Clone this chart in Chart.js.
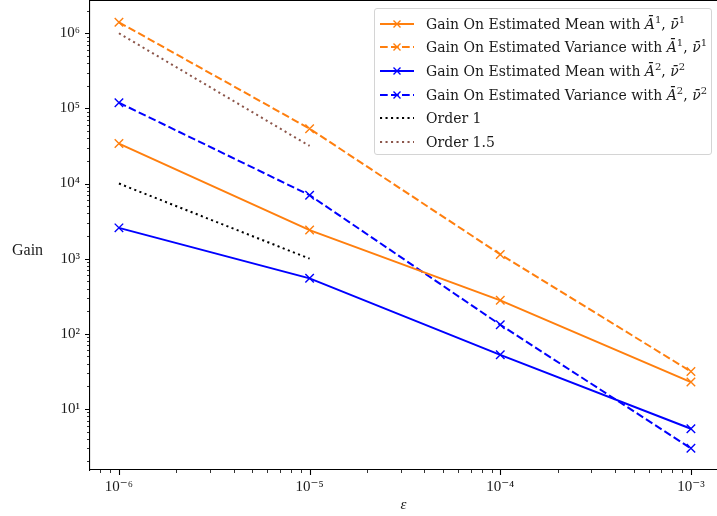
<!DOCTYPE html>
<html lang="en">
<head>
<meta charset="UTF-8">
<title>Gain vs epsilon</title>
<script src="https://cdn.jsdelivr.net/npm/chart.js@4/dist/chart.umd.min.js"></script>
<style>
    body {
        margin: 0;
        background: #fff;
        font-family: 'Liberation Serif', 'DejaVu Serif', serif;
        color: #1a1a1a;
    }
    .wrap {
        position: relative;
        width: 717px;
        height: 516px;
        overflow: hidden;
    }
    canvas {
        position: absolute;
        left: 0;
        top: 0;
    }
    .ylabel {
        position: absolute;
        left: 12px;
        top: 241px;
        font-size: 16px;
    }
    .legend {
        position: absolute;
        left: 374px;
        top: 8px;
        width: 338px;
        height: 147px;
        box-sizing: border-box;
        border: 1px solid #d4d4d4;
        border-radius: 3px;
        background: rgba(255, 255, 255, 0.8);
        padding-top: 3px;
    }
    .legend .row {
        height: 23.6px;
        display: flex;
        align-items: center;
        font-family: 'DejaVu Serif', serif;
        font-size: 14px;
        white-space: nowrap;
    }
    .legend svg {
        margin-left: 5px;
        margin-right: 12px;
        flex: none;
    }
    .legend i { font-style: italic; }
    .legend sup { font-size: 10px; line-height: 0; }
</style>
</head>
<body>
<div class="wrap">
    <canvas id="gainChart" width="717" height="516"></canvas>
    <div class="ylabel">Gain</div>
    <div class="legend" id="legend"></div>
</div>

<script>
    // data (log-log)
    const epsilon = [1e-6, 1e-5, 1e-4, 1e-3];
    const meanA1 = [34000, 2400, 279, 22.8];
    const varA1 = [1.40e6, 53700, 1140, 31.5];
    const meanA2 = [2570, 547, 52.5, 5.46];
    const varA2 = [119000, 7000, 132, 2.99];

    // reference slopes
    const orderEps = [1e-6, 1e-5];
    const order1 = [1e4, 1e3];
    const order15 = [1e6, 3.16e4];

    const legendLabels = [
        'Gain On Estimated Mean with <i>A&#772;</i><sup>1</sup>, <i>&nu;&#772;</i><sup>1</sup>',
        'Gain On Estimated Variance with <i>A&#772;</i><sup>1</sup>, <i>&nu;&#772;</i><sup>1</sup>',
        'Gain On Estimated Mean with <i>A&#772;</i><sup>2</sup>, <i>&nu;&#772;</i><sup>2</sup>',
        'Gain On Estimated Variance with <i>A&#772;</i><sup>2</sup>, <i>&nu;&#772;</i><sup>2</sup>',
        'Order 1',
        'Order 1.5'
    ];

    // axis ticks
    const xMajor = [1e-6, 1e-5, 1e-4, 1e-3];
    const xTickLabels = ['10\u207B\u2076', '10\u207B\u2075', '10\u207B\u2074', '10\u207B\u00B3'];
    const yMajor = [1e1, 1e2, 1e3, 1e4, 1e5, 1e6];
    const yTickLabels = ['10\u00B9', '10\u00B2', '10\u00B3', '10\u2074', '10\u2075', '10\u2076'];
    const minorSteps = [2, 3, 4, 5, 6, 7, 8, 9];

    const xRange = [7.05e-7, 1.37e-3];
    const yRange = [1.54, 2.77e6];

    const ORANGE = '#ff7f0e';
    const BLUE = '#0000ff';
    const BROWN = '#8c564b';
    const DASH = [7.7, 3.3];
    const DOT = [2.1, 3.4];
    const FONT = "'Liberation Serif', 'DejaVu Serif', serif";

    const pts = (xs, ys) => xs.map((x, i) => ({ x: x, y: ys[i] }));

    // decades plus 2..9 subdivisions that fall inside the axis range
    const logTicks = (majors, lo, hi) => {
        const out = [];
        const first = Math.floor(Math.log10(lo)), last = Math.ceil(Math.log10(hi));
        for (let e = first; e <= last; e++) {
            const d = Math.pow(10, e);
            [1].concat(minorSteps).forEach(s => {
                const v = s === 1 ? (majors.find(m => Math.abs(m - d) / d < 1e-9) || d) : s * d;
                if (v >= lo && v <= hi) out.push({ value: v, major: s === 1 });
            });
        }
        return out;
    };

    const datasets = [
        { label: 'mean A1', data: pts(epsilon, meanA1), borderColor: ORANGE, borderDash: [], pointStyle: 'crossRot', pointRadius: 6 },
        { label: 'var A1', data: pts(epsilon, varA1), borderColor: ORANGE, borderDash: DASH, pointStyle: 'crossRot', pointRadius: 6 },
        { label: 'mean A2', data: pts(epsilon, meanA2), borderColor: BLUE, borderDash: [], pointStyle: 'crossRot', pointRadius: 6 },
        { label: 'var A2', data: pts(epsilon, varA2), borderColor: BLUE, borderDash: DASH, pointStyle: 'crossRot', pointRadius: 6 },
        { label: 'Order 1', data: pts(orderEps, order1), borderColor: '#000', borderDash: DOT, pointRadius: 0 },
        { label: 'Order 1.5', data: pts(orderEps, order15), borderColor: BROWN, borderDash: DOT, pointRadius: 0 }
    ].map(d => Object.assign({
        borderWidth: 2,
        pointBorderColor: d.borderColor,
        pointBorderWidth: 1.4,
        pointBackgroundColor: d.borderColor,
        tension: 0,
        fill: false
    }, d));

    // top spine and matplotlib-like outward ticks (major long, minor short)
    const frame = {
        id: 'frame',
        afterDraw(chart) {
            const { ctx, chartArea: a, scales } = chart;
            ctx.save();
            ctx.strokeStyle = '#000';
            ctx.lineWidth = 1.1;
            ctx.beginPath();
            ctx.moveTo(a.left, a.top + 0.5);
            ctx.lineTo(a.right, a.top + 0.5);
            ctx.stroke();
            [true, false].forEach(major => {
                ctx.lineWidth = major ? 1.1 : 0.8;
                const len = major ? 5 : 3;
                ctx.beginPath();
                scales.x.ticks.filter(t => t.major === major).forEach(t => {
                    const p = Math.round(scales.x.getPixelForValue(t.value)) + 0.5;
                    ctx.moveTo(p, a.bottom);
                    ctx.lineTo(p, a.bottom + len);
                });
                scales.y.ticks.filter(t => t.major === major).forEach(t => {
                    const p = Math.round(scales.y.getPixelForValue(t.value)) + 0.5;
                    ctx.moveTo(a.left, p);
                    ctx.lineTo(a.left - len, p);
                });
                ctx.stroke();
            });
            ctx.restore();
        }
    };

    const gainChart = new Chart(document.getElementById('gainChart'), {
        type: 'line',
        data: { datasets: datasets },
        plugins: [frame],
        options: {
            responsive: false,
            animation: false,
            layout: { autoPadding: false, padding: { top: 0, right: 0, bottom: 0, left: 0 } },
            plugins: {
                legend: { display: false },
                tooltip: { enabled: false }
            },
            scales: {
                x: {
                    type: 'logarithmic',
                    min: xRange[0],
                    max: xRange[1],
                    afterBuildTicks: s => { s.ticks = logTicks(xMajor, xRange[0], xRange[1]); },
                    afterFit: s => { s.height = 46; s.paddingLeft = 0; s.paddingRight = 0; },
                    grid: { display: false, drawTicks: false },
                    border: { display: true, color: '#000', width: 1.1 },
                    ticks: {
                        autoSkip: false,
                        maxRotation: 0,
                        padding: 8,
                        color: '#1a1a1a',
                        font: { family: FONT, size: 15 },
                        callback: v => { const i = xMajor.indexOf(v); return i >= 0 ? xTickLabels[i] : ''; }
                    },
                    title: {
                        display: true,
                        text: '\u03B5',
                        color: '#1a1a1a',
                        font: { family: FONT, size: 15, style: 'italic' },
                        padding: { top: 0, bottom: 2 }
                    }
                },
                y: {
                    type: 'logarithmic',
                    min: yRange[0],
                    max: yRange[1],
                    afterBuildTicks: s => { s.ticks = logTicks(yMajor, yRange[0], yRange[1]); },
                    afterFit: s => { s.width = 90; s.paddingTop = 0; s.paddingBottom = 0; },
                    grid: { display: false, drawTicks: false },
                    border: { display: true, color: '#000', width: 1.1 },
                    ticks: {
                        autoSkip: false,
                        padding: 10,
                        color: '#1a1a1a',
                        font: { family: FONT, size: 15 },
                        callback: v => { const i = yMajor.indexOf(v); return i >= 0 ? yTickLabels[i] : ''; }
                    }
                }
            }
        }
    });

    // legend inside the axes, built from the dataset styles
    const legendEl = document.getElementById('legend');
    datasets.forEach((d, i) => {
        const row = document.createElement('div');
        row.className = 'row';
        const dash = d.borderDash.length ? ` stroke-dasharray="${d.borderDash.join(' ')}"` : '';
        const marker = d.pointRadius ?
            `<path d="M13.5 2.5 L20.5 9.5 M20.5 2.5 L13.5 9.5" stroke="${d.borderColor}" stroke-width="1.4"/>` : '';
        row.innerHTML =
            `<svg width="34" height="12"><line x1="0" y1="6" x2="34" y2="6" stroke="${d.borderColor}" stroke-width="2"${dash}/>${marker}</svg>` +
            `<span>${legendLabels[i]}</span>`;
        legendEl.appendChild(row);
    });
</script>
</body>
</html>
